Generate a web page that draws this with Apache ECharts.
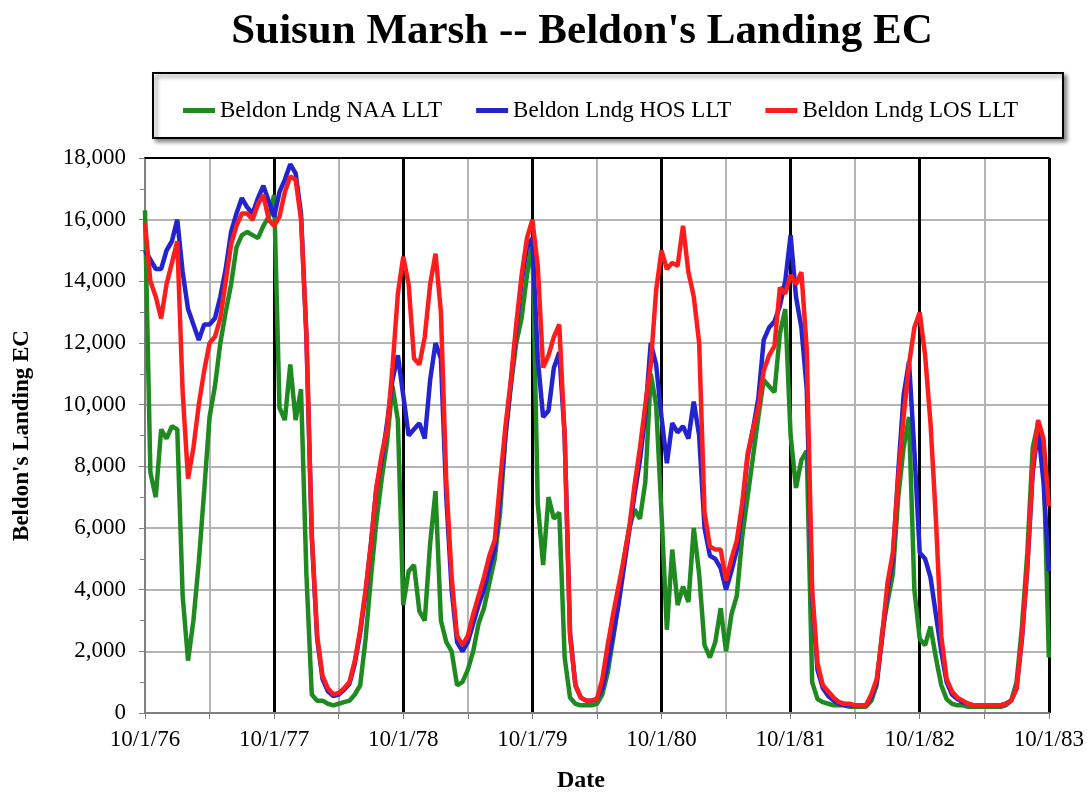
<!DOCTYPE html>
<html>
<head>
<meta charset="utf-8">
<script src="https://cdn.jsdelivr.net/npm/echarts@6/dist/echarts.min.js"></script>
<style>
html,body{margin:0;padding:0;background:#fff;}
#chart{width:1087px;height:793px;}
</style>
</head>
<body>
<div id="chart"></div>
<script>
// Sampling step of the series: half a month, starting 10/1/76
const STEP_MONTHS = 0.5;
const xTickLabels = ['10/1/76','10/1/77','10/1/78','10/1/79','10/1/80','10/1/81','10/1/82','10/1/83'];
const seriesNames = ['Beldon Lndg NAA LLT','Beldon Lndg HOS LLT','Beldon Lndg LOS LLT'];

const naa = [16300,7800,7000,9200,8900,9300,9200,3800,1700,3000,
 4900,7200,9600,10600,12000,13000,13900,15100,15500,15600,
 15500,15400,15800,16100,16800,9900,9500,11300,9500,10500,
 4500,600,400,400,300,250,300,350,400,600,
 900,2400,4400,6200,7600,8800,10600,9500,3500,4600,
 4800,3300,3000,5500,7200,3000,2300,2000,900,1000,
 1400,2000,2900,3400,4200,5000,6500,9000,10600,12000,
 12800,14200,15300,6800,4800,7000,6300,6500,1800,500,
 300,250,250,250,300,600,1300,2400,3600,5000,
 6000,6600,6300,7500,11000,10000,6500,2700,5300,3500,
 4100,3600,6000,4500,2200,1800,2300,3400,2000,3200,
 3800,5700,7000,8300,9600,10800,10600,10400,12300,13100,
 9000,7300,8200,8500,1000,450,350,300,250,250,
 250,200,200,200,200,400,900,2600,3600,4500,
 7000,8600,9600,4000,2400,2200,2800,1800,900,450,
 300,250,250,200,200,200,200,200,200,200,
 250,400,1000,2800,5200,8600,9400,8300,1800];

const hos = [15000,14700,14400,14400,15000,15300,16000,14300,13100,12600,
 12100,12600,12600,12800,13500,14400,15600,16200,16700,16400,
 16200,16700,17100,16600,16100,16900,17300,17800,17500,16200,
 12200,5700,2400,1100,700,550,600,750,950,1600,
 2600,3900,5500,7300,8200,9400,10800,11600,10300,9000,
 9200,9400,8900,10800,12000,11500,7000,4000,2300,2000,
 2300,2900,3500,4000,4700,5300,7000,9000,10700,12400,
 14000,15100,15400,11500,9600,9800,11200,11700,9000,2600,
 900,500,400,400,450,800,1600,2500,3500,4700,
 5900,7100,8200,9700,12000,11300,9600,8100,9400,9100,
 9300,8900,10100,9000,6000,5100,5000,4700,4000,4600,
 5300,6600,8300,9200,10200,12100,12500,12700,13200,14000,
 15500,13500,12500,10500,3800,1400,800,550,400,300,
 250,250,250,250,250,500,1000,2400,4000,5000,
 7800,10300,11400,8500,5200,5000,4400,3200,2000,1000,
 600,450,350,300,250,250,250,250,250,250,
 300,400,800,2400,4700,7800,9200,7500,4600];

const los = [15900,14000,13500,12800,13900,14600,15300,10400,7600,8600,
 10000,11100,12000,12200,12800,14000,15200,15800,16200,16200,
 16000,16500,16800,16000,15800,16100,16900,17400,17300,16000,
 12300,5800,2500,1200,800,600,650,800,1000,1700,
 2700,4000,5500,7300,8400,9200,11200,13600,14800,13900,
 11500,11300,12200,13900,14900,13000,7500,4400,2500,2200,
 2500,3200,3800,4400,5100,5600,7500,9300,10800,12600,
 14200,15400,16000,14500,11200,11600,12200,12600,9000,2500,
 900,500,400,400,450,1100,2200,3200,4100,5000,
 6000,7400,8600,10000,11300,13700,15000,14400,14600,14500,
 15800,14300,13500,12000,6500,5400,5300,5300,4300,5000,
 5600,6800,8400,9200,9900,11100,11600,11900,13800,13600,
 14200,13900,14300,11800,4000,1600,900,700,500,350,
 300,300,250,250,250,600,1100,2500,4200,5200,
 7600,9600,11300,12500,13000,11600,9400,6300,2500,1100,
 700,500,400,300,250,250,250,250,250,250,
 300,400,800,2500,4800,8000,9500,8900,6700];

const colors = ['#1F8A1F', '#2323CF', '#FF1C1C'];
const serif = '"Liberation Serif", "Times New Roman", serif';

function pairs(arr){ return arr.map((v,i)=>[i*STEP_MONTHS, v]); }

const chart = echarts.init(document.getElementById('chart'), null, {renderer:'canvas'});
chart.setOption({
  animation:false,
  backgroundColor:'#fff',
  color: colors,
  graphic:[
    {type:'text', x:582, y:32, style:{text:"Suisun Marsh -- Beldon's Landing EC", fill:'#000', font:'bold 43px ' + serif, textAlign:'center', textVerticalAlign:'middle'}, z:10},
    {type:'text', x:581, y:781, style:{text:'Date', fill:'#000', font:'bold 24px ' + serif, textAlign:'center', textVerticalAlign:'middle'}, z:10},
    {type:'rect', shape:{x:153, y:73, width:910, height:65}, style:{fill:'#fff', stroke:'#000', lineWidth:2, shadowBlur:4, shadowColor:'rgba(0,0,0,0.45)', shadowOffsetX:3, shadowOffsetY:3}, z:0}
  ],
  legend:{
    data: seriesNames,
    left:178, top:94,
    icon:'rect', itemWidth:32, itemHeight:5, itemGap:34,
    textStyle:{fontFamily:serif, fontSize:23, color:'#000'},
    z:5
  },
  grid:{left:145, right:38, top:158, bottom:80, containLabel:false},
  xAxis:[
    {type:'value', min:0, max:84, interval:6,
     axisLine:{show:true, lineStyle:{color:'#7f7f7f', width:2}},
     axisTick:{show:true, length:6, lineStyle:{color:'#7f7f7f', width:1}},
     splitLine:{show:true, lineStyle:{color:'#b4b4b4', width:2}},
     axisLabel:{margin:15, fontFamily:serif, fontSize:23, color:'#000',
       formatter:function(v){ return (v % 12 === 0) ? xTickLabels[v/12] : ''; }}
    },
    {type:'value', min:0, max:84, interval:12, position:'top',
     axisLine:{show:true, lineStyle:{color:'#000', width:2}},
     axisTick:{show:false}, axisLabel:{show:false},
     splitLine:{show:true, showMinLine:false, lineStyle:{color:'#000', width:3}}
    }
  ],
  yAxis:{
    type:'value', min:0, max:18000, interval:2000,
    axisLine:{show:true, lineStyle:{color:'#7f7f7f', width:2}},
    axisTick:{show:true, length:6, lineStyle:{color:'#7f7f7f'}},
    minorTick:{show:true, splitNumber:2, length:5, lineStyle:{color:'#7f7f7f'}},
    splitLine:{show:true, lineStyle:{color:'#b4b4b4', width:2}},
    axisLabel:{margin:19, fontFamily:serif, fontSize:23, color:'#000',
      formatter:function(v){ return v.toLocaleString('en-US'); }},
    name:"Beldon's Landing EC", nameLocation:'middle', nameGap:111, nameRotate:90,
    nameTextStyle:{fontFamily:serif, fontSize:23, fontWeight:'bold', color:'#000'}
  },
  series:[
    {name:seriesNames[0], type:'line', xAxisIndex:0, data:pairs(naa), showSymbol:false, lineStyle:{width:4.5, color:colors[0]}, itemStyle:{color:colors[0]}},
    {name:seriesNames[1], type:'line', xAxisIndex:0, data:pairs(hos), showSymbol:false, lineStyle:{width:4.5, color:colors[1]}, itemStyle:{color:colors[1]}},
    {name:seriesNames[2], type:'line', xAxisIndex:0, data:pairs(los), showSymbol:false, lineStyle:{width:4.5, color:colors[2]}, itemStyle:{color:colors[2]}}
  ]
});
</script>
</body>
</html>
